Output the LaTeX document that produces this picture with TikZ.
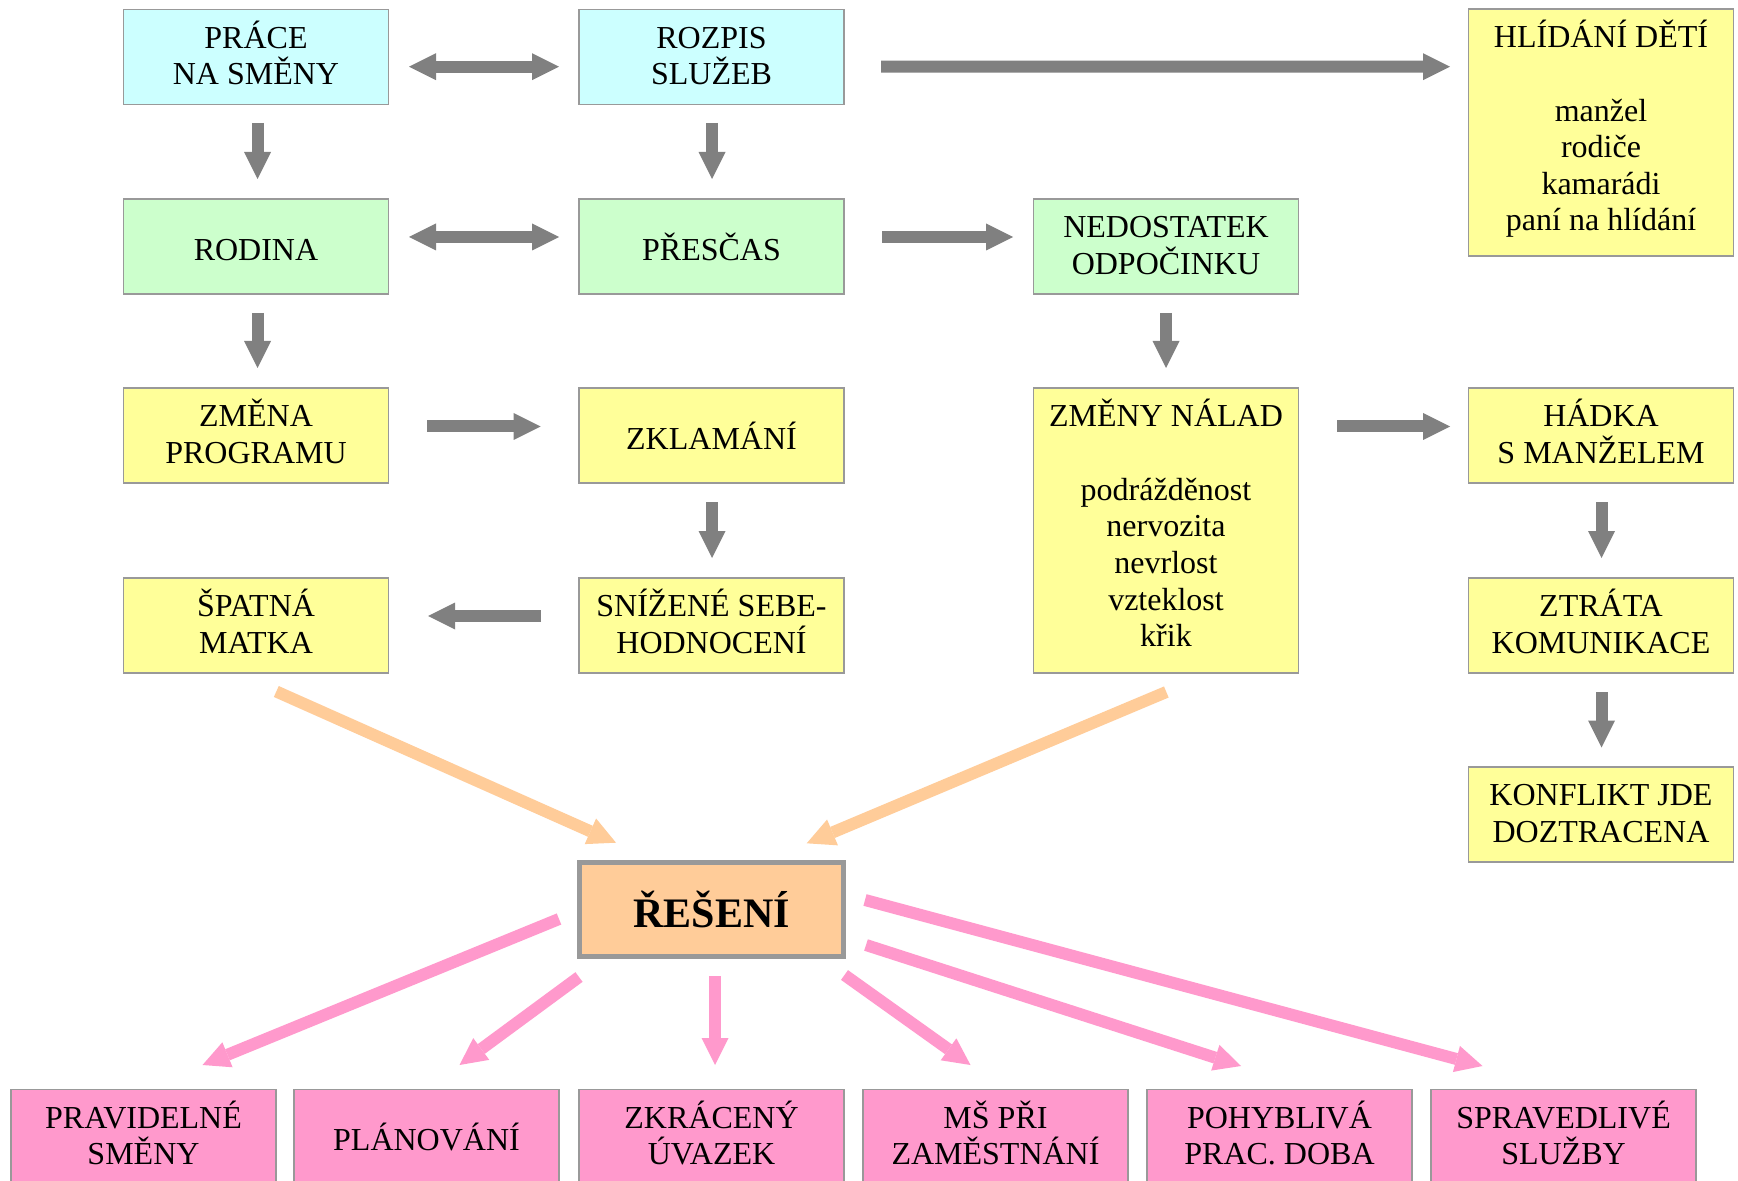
\documentclass[tikz,border=0pt]{standalone}
\usepackage{fontspec}
\setmainfont{Liberation Serif}
\usetikzlibrary{arrows.meta,calc}
\definecolor{cyanbox}{HTML}{CCFFFF}
\definecolor{greenbox}{HTML}{CCFFCC}
\definecolor{yellowbox}{HTML}{FFFF99}
\definecolor{pinkbox}{HTML}{FF99CC}
\definecolor{orangebox}{HTML}{FFCC99}
\definecolor{arrowgray}{HTML}{808080}
\definecolor{bordergray}{HTML}{999999}
% struts fixing the vertical placement of the texts
\newcommand\twoT{\rule{0pt}{14.5pt}}
\newcommand\twoB{\rule[-5pt]{0pt}{5pt}}
\newcommand\oneT{\rule{0pt}{14.2pt}}
\begin{document}
\begin{tikzpicture}[x=0.5pt,y=-0.5pt,
  box/.style={draw=bordergray, line width=0.75pt, minimum width=132.5pt, minimum height=47.5pt,
    inner sep=0pt, outer sep=0pt, align=center, font=\fontsize{16}{18.3}\selectfont},
  tallbox/.style={draw=bordergray, line width=0.75pt, fill=yellowbox, minimum width=132.5pt,
    inner sep=0pt, outer sep=0pt, font=\fontsize{16}{18.3}\selectfont},
  cbox/.style={box, fill=cyanbox},
  gbox/.style={box, fill=greenbox},
  ybox/.style={box, fill=yellowbox},
  pbox/.style={box, fill=pinkbox},
  garrow/.style={draw=arrowgray, line width=6pt, -{Triangle[width=13.5pt,length=13.5pt,line width=0pt]}},
  gdouble/.style={draw=arrowgray, line width=6pt, {Triangle[width=13.5pt,length=13.5pt,line width=0pt]}-{Triangle[width=13.5pt,length=13.5pt,line width=0pt]}},
  oarrow/.style={draw=orangebox, line width=6pt, -{Triangle[width=14pt,length=14pt,line width=0pt]}},
  parrow/.style={draw=pinkbox, line width=6pt, -{Triangle[width=13.5pt,length=13.5pt,line width=0pt]}},
]
\useasboundingbox (0,0) rectangle (1738,1181);
\clip (0,0) rectangle (1738,1181);
\fill[white] (0,0) rectangle (1738,1181);

% nodes
\node[cbox] (prace) at (256,57) {\twoT PRÁCE\\NA SMĚNY\twoB};
\node[cbox] (rozpis) at (711.5,57) {\twoT ROZPIS\\SLUŽEB\twoB};
\node[tallbox, minimum height=123.5pt] (hlid) at (1601,132.5)
  {\begin{minipage}[c][123.5pt][t]{132pt}\centering\rule{0pt}{19.5pt}HLÍDÁNÍ DĚTÍ\\[18.3pt]manžel\\rodiče\\kamarádi\\paní na hlídání\end{minipage}};
\node[gbox] (rodina) at (256,246.5) {\oneT RODINA};
\node[gbox] (prescas) at (711.5,246.5) {\oneT PŘESČAS};
\node[gbox] (nedost) at (1166,246.5) {\twoT NEDOSTATEK\\ODPOČINKU\twoB};
\node[ybox] (zmena) at (256,435.5) {\twoT ZMĚNA\\PROGRAMU\twoB};
\node[ybox] (zklam) at (711.5,435.5) {\oneT ZKLAMÁNÍ};
\node[tallbox, minimum height=142.5pt] (nalady) at (1166,530.5)
  {\begin{minipage}[c][142.5pt][t]{132pt}\centering\rule{0pt}{19.5pt}ZMĚNY NÁLAD\\[18.3pt]podrážděnost\\nervozita\\nevrlost\\vzteklost\\křik\end{minipage}};
\node[ybox] (hadka) at (1601,435.5) {\twoT HÁDKA\\S MANŽELEM\twoB};
\node[ybox] (spatna) at (256,625.5) {\twoT ŠPATNÁ\\MATKA\twoB};
\node[ybox] (snizene) at (711.5,625.5) {\twoT SNÍŽENÉ SEBE-\\HODNOCENÍ\twoB};
\node[ybox] (ztrata) at (1601,625.5) {\twoT ZTRÁTA\\KOMUNIKACE\twoB};
\node[ybox] (konflikt) at (1601,814.5) {\twoT KONFLIKT JDE\\DOZTRACENA\twoB};
\node[draw=bordergray, line width=2.5pt, fill=orangebox, minimum width=132pt, minimum height=47pt,
  inner sep=0pt, outer sep=0pt, font=\fontsize{21}{25}\selectfont\bfseries] (reseni) at (711.5,909.5) {ŘEŠENÍ};
\node[pbox] (b1) at (143.5,1137) {\twoT PRAVIDELNÉ\\SMĚNY\twoB};
\node[pbox] (b2) at (426.5,1137) {\oneT PLÁNOVÁNÍ};
\node[pbox] (b3) at (711.5,1137) {\twoT ZKRÁCENÝ\\ÚVAZEK\twoB};
\node[pbox] (b4) at (995.5,1137) {\twoT MŠ PŘI\\ZAMĚSTNÁNÍ\twoB};
\node[pbox] (b5) at (1279.5,1137) {\twoT POHYBLIVÁ\\PRAC. DOBA\twoB};
\node[pbox] (b6) at (1563.5,1137) {\twoT SPRAVEDLIVÉ\\SLUŽBY\twoB};

% gray arrows
\draw[gdouble] ($(prace)+(153,9.7)$) -- ($(rozpis)+(-152.5,9.7)$);
\draw[garrow] ($(rozpis)+(169.5,9.7)$) -- ($(hlid)+(-151,-65.8)$);
\draw[garrow] ($(prace)+(1.5,66)$) -- ($(rodina)+(1.5,-67.5)$);
\draw[garrow] ($(rozpis)+(0.5,66)$) -- ($(prescas)+(0.5,-67.5)$);
\draw[gdouble] ($(rodina)+(153,-9.5)$) -- ($(prescas)+(-152.5,-9.5)$);
\draw[garrow] ($(prescas)+(170.5,-9.5)$) -- ($(nedost)+(-153,-9.5)$);
\draw[garrow] ($(rodina)+(1.5,66.5)$) -- ($(zmena)+(1.5,-67.5)$);
\draw[garrow] ($(nedost)+(0,66.5)$) -- ($(nalady)+(0,-162.5)$);
\draw[garrow] ($(zmena)+(171,-9)$) -- ($(zklam)+(-171,-9)$);
\draw[garrow] ($(nalady)+(171,-104)$) -- ($(hadka)+(-151,-9)$);
\draw[garrow] ($(zklam)+(0.5,66.5)$) -- ($(snizene)+(0.5,-67.5)$);
\draw[garrow] ($(hadka)+(0.5,66.5)$) -- ($(ztrata)+(0.5,-67.5)$);
\draw[garrow] ($(snizene)+(-170.5,-9.5)$) -- ($(spatna)+(172,-9.5)$);
\draw[garrow] ($(ztrata)+(0.5,66.5)$) -- ($(konflikt)+(0.5,-67)$);

% orange arrows
\draw[oarrow] ($(spatna)+(20.3,66)$) -- ($(reseni)+(-95.5,-66.8)$);
\draw[oarrow] ($(nalady)+(0.3,161.5)$) -- ($(reseni)+(95.2,-66.2)$);

% pink arrows
\draw[parrow] ($(reseni)+(-152.5,9.5)$) -- ($(b1)+(59,-72)$);
\draw[parrow] ($(reseni)+(-132.5,67.5)$) -- ($(b2)+(33,-72)$);
\draw[parrow] ($(reseni)+(3.5,66.5)$) -- ($(b3)+(3.5,-72)$);
\draw[parrow] ($(reseni)+(133,65.5)$) -- ($(b4)+(-25,-72)$);
\draw[parrow] ($(reseni)+(154.5,35.5)$) -- ($(b5)+(-38.5,-71)$);
\draw[parrow] ($(reseni)+(153.5,-9.5)$) -- ($(b6)+(-81,-71)$);
\end{tikzpicture}
\end{document}
